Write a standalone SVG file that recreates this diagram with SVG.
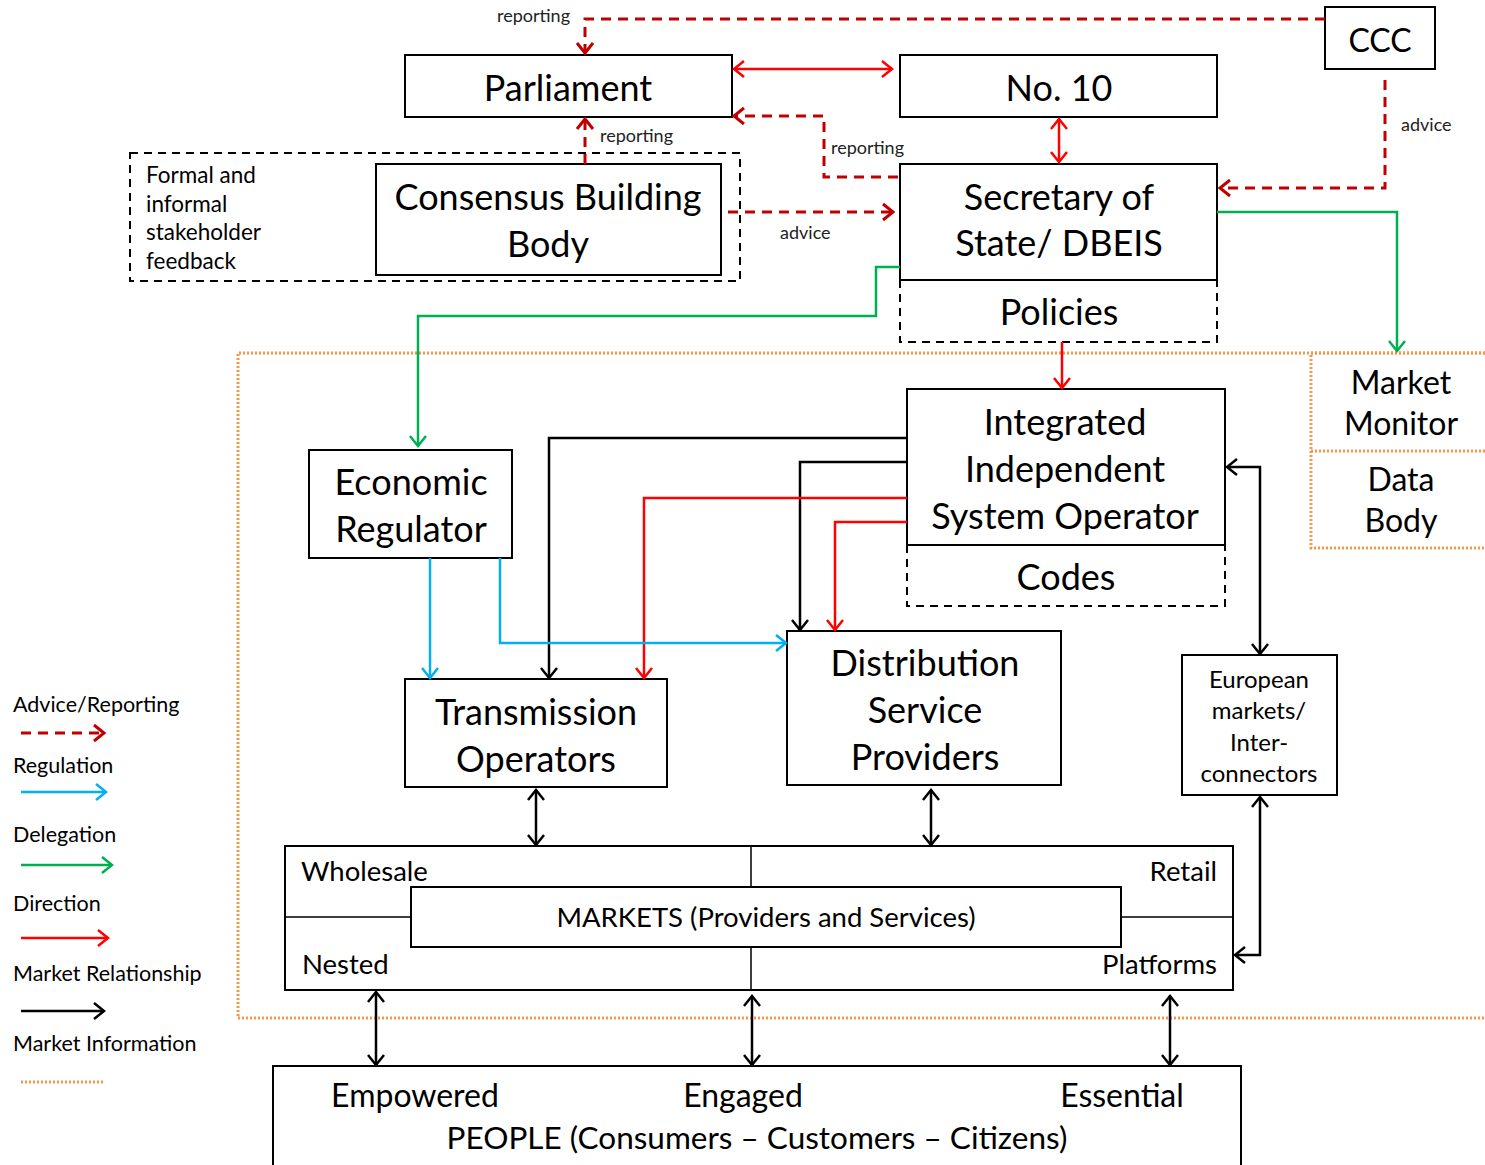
<svg xmlns="http://www.w3.org/2000/svg" width="1485" height="1165" viewBox="0 0 1485 1165">
<style>
text{font-family:Lato,"Open Sans","Liberation Sans",sans-serif;fill:#000}
.big{font-size:36px;text-anchor:middle}
.mid{font-size:22.5px;text-anchor:middle}
.sm{font-size:18px;fill:#222}
.leg{font-size:21.5px}
.box{fill:#fff;stroke:#000;stroke-width:2}
.dbox{fill:none;stroke:#000;stroke-width:2;stroke-dasharray:8 6}
.obox{fill:none;stroke:#f79646;stroke-width:3;stroke-dasharray:2 2}
.adv{fill:none;stroke:#c00000;stroke-width:3;stroke-dasharray:10 7}
.dir{fill:none;stroke:#ff0000;stroke-width:2.5}
.reg{fill:none;stroke:#00b0f0;stroke-width:2.5}
.del{fill:none;stroke:#00b050;stroke-width:2.5}
.mkt{fill:none;stroke:#000;stroke-width:2.5}
</style>
<defs>
<marker id="aAdv" markerUnits="userSpaceOnUse" markerWidth="20" markerHeight="20" refX="12" refY="10" orient="auto-start-reverse" viewBox="0 0 20 20"><path d="M2,2 L12,10 L2,18" fill="none" stroke="#c00000" stroke-width="3"/></marker>
<marker id="aDir" markerUnits="userSpaceOnUse" markerWidth="20" markerHeight="20" refX="12" refY="10" orient="auto-start-reverse" viewBox="0 0 20 20"><path d="M2,2 L12,10 L2,18" fill="none" stroke="#ff0000" stroke-width="2.5"/></marker>
<marker id="aReg" markerUnits="userSpaceOnUse" markerWidth="20" markerHeight="20" refX="12" refY="10" orient="auto-start-reverse" viewBox="0 0 20 20"><path d="M2,2 L12,10 L2,18" fill="none" stroke="#00b0f0" stroke-width="2.5"/></marker>
<marker id="aDel" markerUnits="userSpaceOnUse" markerWidth="20" markerHeight="20" refX="12" refY="10" orient="auto-start-reverse" viewBox="0 0 20 20"><path d="M2,2 L12,10 L2,18" fill="none" stroke="#00b050" stroke-width="2.5"/></marker>
<marker id="aMkt" markerUnits="userSpaceOnUse" markerWidth="20" markerHeight="20" refX="12" refY="10" orient="auto-start-reverse" viewBox="0 0 20 20"><path d="M2,2 L12,10 L2,18" fill="none" stroke="#000" stroke-width="2.5"/></marker>
</defs>
<rect width="1485" height="1165" fill="#fff"/>

<g id="market-info-region">
<path class="obox" d="M1485,353 H238 V1018 H1485"/>
</g>

<g id="stakeholder-feedback">
<rect class="dbox" x="130" y="153" width="610" height="128"/>
<text class="mid" x="146" y="183" style="text-anchor:start">Formal and</text>
<text class="mid" x="146" y="212" style="text-anchor:start">informal</text>
<text class="mid" x="146" y="240" style="text-anchor:start">stakeholder</text>
<text class="mid" x="146" y="269" style="text-anchor:start">feedback</text>
</g>

<g id="parliament"><rect class="box" x="405" y="55" width="327" height="62"/><text class="big" x="568" y="101">Parliament</text></g>
<g id="no10"><rect class="box" x="900" y="55" width="317" height="62"/><text class="big" x="1059" y="101">No. 10</text></g>
<g id="ccc"><rect class="box" x="1325" y="7" width="110" height="62"/><text class="big" x="1380" y="52" style="font-size:32px">CCC</text></g>
<g id="consensus"><rect class="box" x="376" y="164" width="345" height="111"/><text class="big" x="548" y="210">Consensus Building</text><text class="big" x="548" y="257">Body</text></g>
<g id="sos"><rect class="box" x="900" y="164" width="317" height="116"/><text class="big" x="1059" y="210">Secretary of</text><text class="big" x="1059" y="256">State/ DBEIS</text></g>
<g id="policies"><path class="dbox" d="M900,280 V342 H1217 V280"/><text class="big" x="1059" y="325">Policies</text></g>
<g id="market-monitor"><path class="obox" d="M1485,353 H1311 V548 H1485 M1311,451 H1485"/><text class="big" x="1401" y="394" style="font-size:32px">Market</text><text class="big" x="1401" y="435" style="font-size:32px">Monitor</text><text class="big" x="1401" y="491" style="font-size:32px">Data</text><text class="big" x="1401" y="532" style="font-size:32px">Body</text></g>
<g id="iiso"><rect class="box" x="907" y="389" width="318" height="156"/><text class="big" x="1065" y="435">Integrated</text><text class="big" x="1065" y="482">Independent</text><text class="big" x="1065" y="529">System Operator</text></g>
<g id="codes"><path class="dbox" d="M907,545 V606 H1225 V545"/><text class="big" x="1066" y="590">Codes</text></g>
<g id="econ-reg"><rect class="box" x="309" y="450" width="203" height="108"/><text class="big" x="411" y="495">Economic</text><text class="big" x="411" y="542">Regulator</text></g>
<g id="transmission"><rect class="box" x="405" y="679" width="262" height="108"/><text class="big" x="536" y="725">Transmission</text><text class="big" x="536" y="772">Operators</text></g>
<g id="distribution"><rect class="box" x="787" y="631" width="274" height="154"/><text class="big" x="925" y="676">Distribution</text><text class="big" x="925" y="723">Service</text><text class="big" x="925" y="770">Providers</text></g>
<g id="european"><rect class="box" x="1182" y="655" width="155" height="140"/><text class="mid" x="1259" y="688" style="font-size:24px">European</text><text class="mid" x="1259" y="719" style="font-size:24px">markets/</text><text class="mid" x="1259" y="751" style="font-size:24px">Inter-</text><text class="mid" x="1259" y="782" style="font-size:24px">connectors</text></g>
<g id="markets">
<rect class="box" x="285" y="846" width="948" height="144"/>
<path d="M751,846 V887 M751,947 V990 M285,917 H411 M1121,917 H1233" stroke="#000" stroke-width="1.5" fill="none"/>
<rect class="box" x="411" y="887" width="710" height="60"/>
<text class="mid" x="766" y="927" style="font-size:27.5px">MARKETS (Providers and Services)</text>
<text x="301" y="881" style="font-size:27.5px">Wholesale</text>
<text x="1217" y="881" style="font-size:27.5px;text-anchor:end">Retail</text>
<text x="302" y="974" style="font-size:27.5px">Nested</text>
<text x="1217" y="974" style="font-size:27.5px;text-anchor:end">Platforms</text>
</g>
<g id="people">
<rect class="box" x="273" y="1066" width="968" height="104"/>
<text class="big" x="415" y="1107" style="font-size:32px">Empowered</text>
<text class="big" x="743" y="1107" style="font-size:32px">Engaged</text>
<text class="big" x="1122" y="1107" style="font-size:32px">Essential</text>
<text class="big" x="757" y="1149" style="font-size:31.5px">PEOPLE (Consumers – Customers – Citizens)</text>
</g>

<g id="connectors">
<path class="adv" d="M1325,19 H585 V53" marker-end="url(#aAdv)"/>
<path class="dir" d="M734,69 H892" marker-start="url(#aDir)" marker-end="url(#aDir)"/>
<path class="adv" d="M1385,80 V188 H1220" marker-end="url(#aAdv)"/>
<path class="dir" d="M1059,119 V162" marker-start="url(#aDir)" marker-end="url(#aDir)"/>
<path class="adv" d="M898,177 H824 V116 H734" marker-end="url(#aAdv)"/>
<path class="adv" d="M585,164 V119" marker-end="url(#aAdv)"/>
<path class="adv" d="M728,212 H893" marker-end="url(#aAdv)"/>
<path class="del" d="M900,267 H876 V316 H418 V446" marker-end="url(#aDel)"/>
<path class="del" d="M1217,212 H1397 V351" marker-end="url(#aDel)"/>
<path class="dir" d="M1062,342 V388" marker-end="url(#aDir)"/>
<path class="mkt" d="M907,438 H549 V678" marker-end="url(#aMkt)"/>
<path class="mkt" d="M907,462 H800 V630" marker-end="url(#aMkt)"/>
<path class="dir" d="M907,498 H644 V678" marker-end="url(#aDir)"/>
<path class="dir" d="M907,522 H835 V630" marker-end="url(#aDir)"/>
<path class="reg" d="M430,558 V678" marker-end="url(#aReg)"/>
<path class="reg" d="M500,558 V643 H786" marker-end="url(#aReg)"/>
<path class="mkt" d="M1227,467 H1260 V654" marker-start="url(#aMkt)" marker-end="url(#aMkt)"/>
<path class="mkt" d="M536,790 V845" marker-start="url(#aMkt)" marker-end="url(#aMkt)"/>
<path class="mkt" d="M931,790 V845" marker-start="url(#aMkt)" marker-end="url(#aMkt)"/>
<path class="mkt" d="M1260,797 V955 H1235" marker-start="url(#aMkt)" marker-end="url(#aMkt)"/>
<path class="mkt" d="M376,992 V1065" marker-start="url(#aMkt)" marker-end="url(#aMkt)"/>
<path class="mkt" d="M752,996 V1065" marker-start="url(#aMkt)" marker-end="url(#aMkt)"/>
<path class="mkt" d="M1170,996 V1065" marker-start="url(#aMkt)" marker-end="url(#aMkt)"/>
<text class="sm" x="497" y="22">reporting</text>
<text class="sm" x="600" y="142">reporting</text>
<text class="sm" x="831" y="154">reporting</text>
<text class="sm" x="780" y="239">advice</text>
<text class="sm" x="1401" y="131">advice</text>
</g>

<g id="legend">
<text class="leg" x="13" y="712">Advice/Reporting</text>
<path class="adv" d="M21,733 H104" marker-end="url(#aAdv)"/>
<text class="leg" x="13" y="773">Regulation</text>
<path class="reg" d="M21,792 H106" marker-end="url(#aReg)"/>
<text class="leg" x="13" y="842">Delegation</text>
<path class="del" d="M21,865 H112" marker-end="url(#aDel)"/>
<text class="leg" x="13" y="911">Direction</text>
<path class="dir" d="M21,938 H108" marker-end="url(#aDir)"/>
<text class="leg" x="13" y="981">Market Relationship</text>
<path class="mkt" d="M21,1011 H104" marker-end="url(#aMkt)"/>
<text class="leg" x="13" y="1051">Market Information</text>
<path class="obox" d="M21,1082 H105"/>
</g>
</svg>
